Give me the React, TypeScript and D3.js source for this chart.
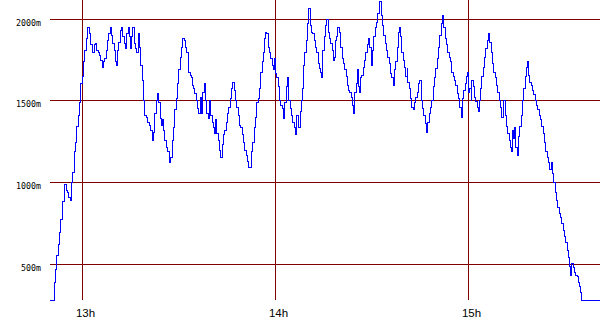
import React from "react";
import * as d3 from "d3";

// Altitude track: [minutes after 12:00, altitude in metres]
const track: [number, number][] = [
  [50.0, 280], [51.10, 280], [51.30, 390], [51.72, 464], [52.13, 555], [52.55, 617], [52.96, 696], [53.37, 770], [53.79, 812], [54.00, 880],
  [54.41, 941], [54.62, 990], [55.03, 953], [55.45, 941], [55.86, 910], [56.27, 892], [56.69, 1002], [57.10, 1063], [57.52, 1186], [57.93, 1241],
  [58.35, 1339], [58.76, 1412], [59.17, 1486], [59.59, 1608], [60.00, 1645], [60.42, 1737], [60.83, 1810], [61.25, 1883], [61.66, 1945], [62.07, 1951],
  [62.28, 1914], [62.70, 1841], [63.11, 1810], [63.32, 1792], [63.73, 1841], [64.15, 1853], [64.56, 1810], [64.97, 1792], [65.39, 1779], [65.80, 1749],
  [66.22, 1706], [66.63, 1737], [67.05, 1761], [67.46, 1810], [67.87, 1871], [68.29, 1914], [68.70, 1945], [69.12, 1902], [69.53, 1853], [69.95, 1810],
  [70.36, 1737], [70.57, 1718], [70.98, 1810], [71.40, 1859], [71.81, 1932], [72.23, 1951], [72.64, 1890], [73.06, 1853], [73.47, 1822], [73.88, 1914],
  [74.30, 1951], [74.71, 1890], [74.92, 1822], [75.34, 1890], [75.75, 1951], [76.17, 1853], [76.58, 1822], [76.99, 1792], [77.41, 1914], [77.82, 1828],
  [78.24, 1718], [78.65, 1626], [79.07, 1504], [79.48, 1412],
  [79.88, 1400], [80.30, 1369], [80.92, 1351], [81.33, 1320], [81.75, 1259], [82.16, 1308], [82.58, 1424], [82.99, 1504], [83.41, 1547], [83.82, 1486],
  [84.23, 1394], [84.65, 1351], [85.06, 1382], [85.27, 1320], [85.68, 1259], [86.10, 1216], [86.51, 1186], [87.13, 1119], [87.55, 1155], [87.96, 1259],
  [88.38, 1333], [88.79, 1443], [89.21, 1516], [89.62, 1608], [90.03, 1688], [90.45, 1767], [90.86, 1828], [91.28, 1883], [91.69, 1871], [92.11, 1828],
  [92.52, 1792], [92.93, 1737], [93.14, 1675], [93.56, 1657], [93.97, 1639], [94.18, 1596], [94.59, 1577], [95.01, 1547], [95.42, 1504], [95.83, 1455],
  [96.25, 1424], [96.66, 1522], [97.08, 1424], [97.49, 1553], [97.91, 1608], [98.32, 1504], [98.73, 1424], [99.15, 1394], [99.56, 1504], [99.98, 1412],
  [100.39, 1369], [100.81, 1333], [101.01, 1302], [101.43, 1382], [101.84, 1302], [102.26, 1259], [102.67, 1198], [103.08, 1155], [103.50, 1229], [103.91, 1290],
  [104.33, 1320], [104.74, 1369], [105.16, 1424], [105.57, 1461], [105.98, 1516], [106.40, 1577], [106.81, 1614], [107.23, 1565],
  [107.65, 1504], [108.06, 1461], [108.48, 1412], [108.89, 1351], [109.30, 1333], [109.72, 1290], [110.13, 1247], [110.55, 1198], [110.96, 1167], [111.38, 1125],
  [111.79, 1094], [112.20, 1088], [112.62, 1186], [113.03, 1247], [113.45, 1333], [113.86, 1400], [114.28, 1486], [114.69, 1516], [115.10, 1577], [115.52, 1675],
  [115.93, 1737], [116.35, 1792], [116.76, 1883], [116.97, 1920], [117.38, 1914], [117.80, 1828], [118.21, 1798], [118.63, 1761], [119.04, 1718], [119.45, 1688],
  [119.87, 1761], [120.08, 1669], [120.49, 1639], [120.90, 1584], [121.32, 1504], [121.73, 1473], [122.15, 1455], [122.56, 1394], [122.98, 1486], [123.39, 1584],
  [123.80, 1639], [124.22, 1504], [124.63, 1455], [125.05, 1412], [125.46, 1369], [125.88, 1333], [126.29, 1290], [126.70, 1412], [127.12, 1400], [127.33, 1333],
  [127.74, 1431], [128.15, 1504], [128.36, 1577], [128.78, 1718], [129.19, 1792], [129.60, 1871], [130.02, 1975], [130.43, 2067], [130.85, 1963], [131.26, 1920],
  [131.68, 1914], [132.09, 1871], [132.50, 1828], [132.92, 1792], [133.33, 1730], [133.75, 1700], [134.16, 1675], [134.37, 1639],
  [134.78, 1810], [135.19, 1890], [135.61, 1963], [136.02, 1994], [136.44, 1920], [136.85, 1883], [137.26, 1853], [137.68, 1810], [138.09, 1749], [138.51, 1767],
  [138.71, 1871], [139.13, 1890], [139.54, 1951], [139.96, 1920], [140.37, 1828], [140.79, 1761], [141.20, 1730], [141.61, 1688], [142.03, 1645], [142.44, 1596],
  [142.86, 1565], [143.27, 1553], [143.69, 1522], [144.10, 1473], [144.31, 1424], [144.72, 1553], [145.14, 1608], [145.55, 1688], [145.96, 1584], [146.38, 1553],
  [146.59, 1639], [147.00, 1657], [147.41, 1706], [147.83, 1749], [148.24, 1798], [148.66, 1841], [149.07, 1883], [149.49, 1828], [149.90, 1718], [150.31, 1810],
  [150.73, 1890], [151.14, 1945], [151.56, 1981], [151.97, 2036], [152.39, 2085], [152.59, 2110], [153.01, 2024], [153.42, 1963], [153.84, 1902], [154.25, 1853],
  [154.66, 1810], [155.08, 1767], [155.49, 1730], [155.91, 1669], [156.32, 1639], [156.74, 1596], [157.15, 1688], [157.56, 1737], [157.98, 1828], [158.39, 1920],
  [158.60, 1945], [159.01, 1890], [159.43, 1798], [159.84, 1749], [160.26, 1706], [160.67, 1645], [161.09, 1700], [161.29, 1614], [161.71, 1577], [162.12, 1516],
  [162.54, 1461], [162.95, 1443],
  [163.36, 1486], [163.77, 1522], [164.19, 1553], [164.60, 1608], [165.02, 1626], [165.43, 1504], [165.85, 1455], [166.26, 1412], [166.67, 1363], [167.09, 1308],
  [167.50, 1369], [167.92, 1424], [168.33, 1461], [168.75, 1504], [169.16, 1584], [169.57, 1639], [169.99, 1700], [170.40, 1761], [170.82, 1828], [171.23, 1902],
  [171.65, 1975], [172.06, 2024], [172.47, 1951], [172.89, 1883], [173.30, 1841], [173.72, 1798], [174.13, 1767], [174.55, 1737], [174.96, 1675], [175.37, 1645],
  [175.79, 1626], [176.20, 1596], [176.62, 1547], [177.03, 1516], [177.45, 1461], [177.86, 1400], [178.27, 1516], [178.69, 1565], [179.10, 1608], [179.52, 1645],
  [179.72, 1675], [180.14, 1553], [180.55, 1577], [180.97, 1504], [181.17, 1626], [181.59, 1584], [182.00, 1522], [182.42, 1492], [182.83, 1461], [183.24, 1431],
  [183.45, 1504], [183.87, 1577], [184.28, 1645], [184.70, 1706], [185.11, 1767], [185.52, 1822], [185.94, 1871], [186.35, 1914], [186.77, 1859], [187.18, 1792],
  [187.60, 1730], [188.01, 1675], [188.42, 1639], [188.84, 1596], [189.25, 1553], [189.67, 1504], [190.08, 1461], [190.50, 1400], [190.91, 1486],
  [191.12, 1504], [191.54, 1412], [191.95, 1339], [192.37, 1302], [192.78, 1259], [193.19, 1216], [193.40, 1186], [193.82, 1320], [194.23, 1271], [194.44, 1333],
  [194.85, 1216], [195.27, 1167], [195.68, 1278], [196.09, 1339], [196.51, 1412], [196.92, 1504], [197.34, 1577], [197.75, 1645], [198.17, 1706], [198.37, 1737],
  [198.79, 1657], [199.20, 1614], [199.62, 1596], [200.03, 1565], [200.44, 1535], [200.86, 1504], [201.27, 1473], [201.69, 1443], [202.10, 1412], [202.52, 1382],
  [202.93, 1339], [203.34, 1302], [203.76, 1241], [204.17, 1186], [204.59, 1155], [205.00, 1119], [205.42, 1076], [205.83, 1119], [206.24, 1057], [206.66, 1002],
  [207.07, 935], [207.49, 892], [207.90, 849], [208.32, 812], [208.73, 782], [209.14, 751], [209.56, 708], [209.97, 666], [210.39, 629], [210.80, 586],
  [211.22, 543], [211.63, 482], [211.84, 433], [212.25, 506], [212.67, 476], [213.08, 451], [213.49, 433], [213.91, 421], [214.32, 390], [214.74, 360],
  [214.94, 323], [215.15, 280], [221.0, 280],
];

const altitudeTicks = [500, 1000, 1500, 2000];
const hourTicks = [13, 14, 15];

const W = 600;
const H = 330;
const GRID = "#800000";

export default function App() {
  const x = d3.scaleLinear().domain([50, 221]).range([50, 600]);
  const y = d3.scaleLinear().domain([280, 2000]).range([300, 19]);

  const line = d3
    .line<[number, number]>()
    .x((d) => x(d[0]))
    .y((d) => y(d[1]))
    .curve(d3.curveStepAfter);

  const left = x.range()[0];
  const right = x.range()[1];
  const bottom = y.range()[0];
  const hx = (h: number) => Math.floor(x((h - 12) * 60));

  return (
    <svg
      width={W}
      height={H}
      viewBox={`0 0 ${W} ${H}`}
      style={{ position: "absolute", left: 0, top: 0, background: "#fff", display: "block" }}
    >
      <rect x={0} y={0} width={W} height={H} fill="#fff" />
      <g shapeRendering="crispEdges">
        {altitudeTicks.map((v) => {
          const yy = Math.floor(y(v)) + 0.5;
          return (
            <line key={"h" + v} x1={left} x2={right} y1={yy} y2={yy} stroke={GRID} strokeWidth={1} />
          );
        })}
        {hourTicks.map((h) => {
          const xx = hx(h) + 0.5;
          return (
            <line key={"v" + h} x1={xx} x2={xx} y1={0} y2={bottom} stroke={GRID} strokeWidth={1} />
          );
        })}
      </g>
      <path
        d={line(track) || ""}
        fill="none"
        stroke="#0000ff"
        strokeWidth={1}
        shapeRendering="crispEdges"
      />
      <g fontFamily="'DejaVu Sans Mono', monospace" fontSize={8.3} fill="#000">
        {altitudeTicks.map((v) => (
          <text key={"yl" + v} x={41} y={Math.floor(y(v)) + 7} textAnchor="end">
            {v}m
          </text>
        ))}
      </g>
      <g fontFamily="'Liberation Sans', Arial, sans-serif" fontSize={11.5} fill="#000">
        {hourTicks.map((h) => (
          <text key={"xl" + h} x={hx(h) + 3.5} y={317} textAnchor="middle">
            {h}h
          </text>
        ))}
      </g>
    </svg>
  );
}
